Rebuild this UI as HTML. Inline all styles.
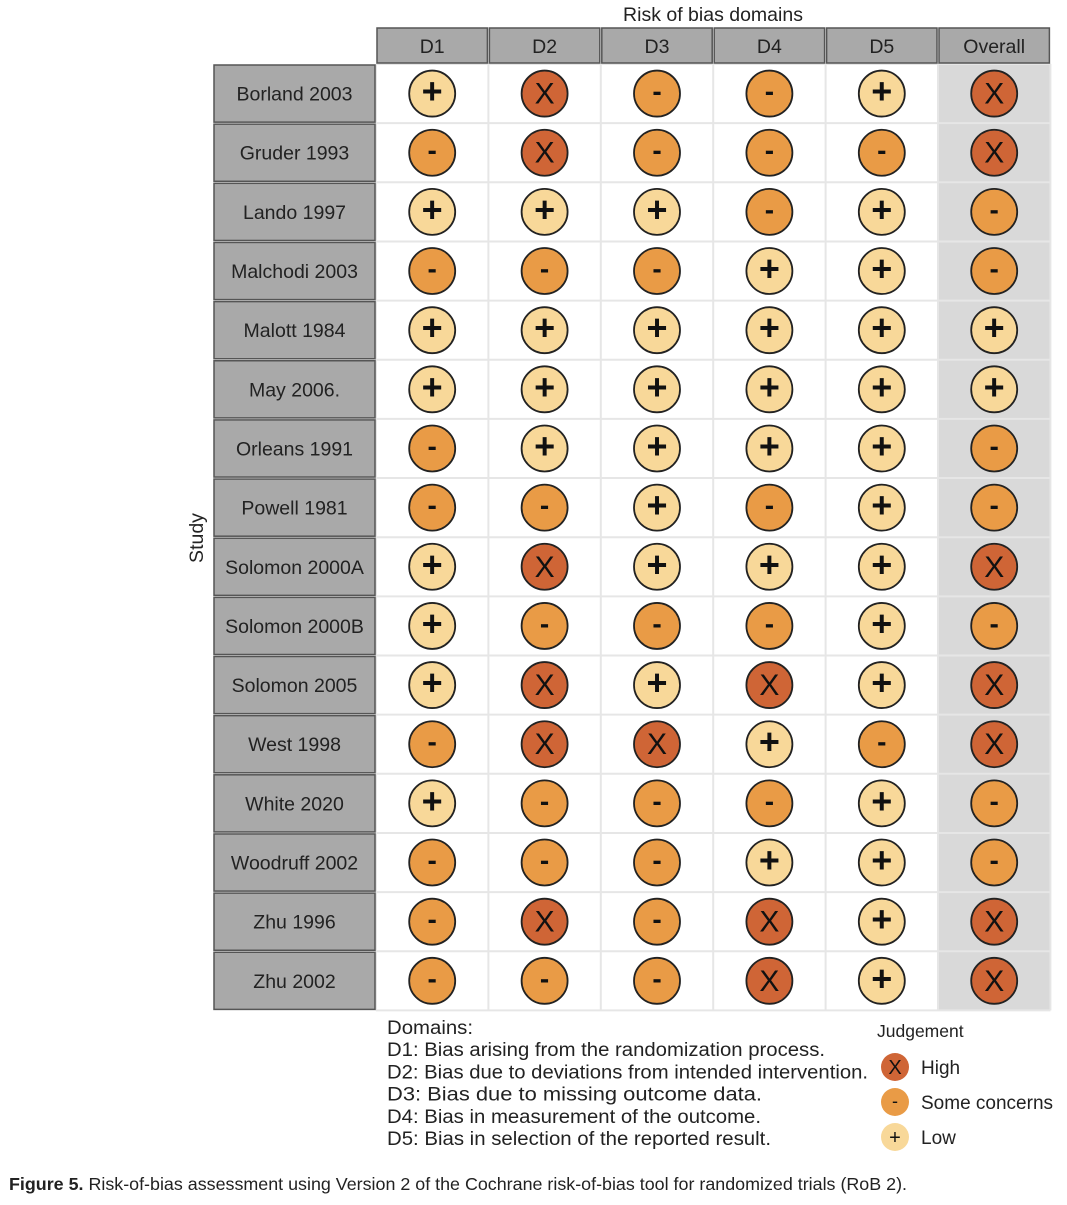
<!DOCTYPE html>
<html><head><meta charset="utf-8"><style>
body{margin:0;background:#fff;width:1067px;height:1200px;overflow:hidden;font-family:"Liberation Sans",sans-serif}
</style></head><body>
<svg id="chart" width="1067" height="1200" xmlns="http://www.w3.org/2000/svg" font-family="Liberation Sans, sans-serif"></svg>
<script>
const studies=["Borland 2003","Gruder 1993","Lando 1997","Malchodi 2003","Malott 1984","May 2006.","Orleans 1991","Powell 1981","Solomon 2000A","Solomon 2000B","Solomon 2005","West 1998","White 2020","Woodruff 2002","Zhu 1996","Zhu 2002"];
const domains=["D1","D2","D3","D4","D5","Overall"];
const d1=["+","-","+","-","+","+","-","-","+","+","+","-","+","-","-","-"];
const d2=["X","X","+","-","+","+","+","-","X","-","X","X","-","-","X","-"];
const d3=["-","-","+","-","+","+","+","+","+","-","+","X","-","-","-","-"];
const d4=["-","-","-","+","+","+","+","-","+","-","X","+","-","+","X","X"];
const d5=["+","-","+","+","+","+","+","+","+","+","+","-","+","+","+","+"];
const overall=["X","X","-","-","+","+","-","-","X","-","X","X","-","-","X","X"];
const cols=[d1,d2,d3,d4,d5,overall];
const svg=document.getElementById('chart');
const NS="http://www.w3.org/2000/svg";
const colors={"X":"#cf6536","-":"#e99b46","+":"#f8d899"};
function mk(tag,attrs,parent){const e=document.createElementNS(NS,tag);for(const k in attrs)e.setAttribute(k,attrs[k]);(parent||svg).appendChild(e);return e;}
const x0=376,colW=112.4,y0=64,rowH=59.15,labX=213;
function cx(j){return x0+colW*(j+0.5);}
function cy(i){return y0+rowH*(i+0.5);}
let bg=mk('rect',{x:x0+colW*5,y:y0,width:colW,height:rowH*studies.length,fill:'#d9d9d9'});


for(let i=0;i<=studies.length;i++){mk('line',{x1:x0,x2:x0+colW*6,y1:y0+rowH*i,y2:y0+rowH*i,stroke:'#e6e6e6','stroke-width':2});}
for(let j=0;j<=6;j++){mk('line',{x1:x0+colW*j,x2:x0+colW*j,y1:y0,y2:y0+rowH*studies.length,stroke:'#e6e6e6','stroke-width':2});}
let t=mk('text',{x:713,y:21,'font-size':19.5,'text-anchor':'middle',fill:'#222'});t.textContent='Risk of bias domains';


domains.forEach((d,j)=>{
 let r=mk('rect',{x:x0+colW*j+1,y:28,width:colW-2,height:35,fill:'#a9a9a9',stroke:'#555','stroke-width':1.5});
 
 
 let tx=mk('text',{x:cx(j),y:53,'font-size':19.5,'text-anchor':'middle',fill:'#222'});tx.textContent=d;
});
studies.forEach((s,i)=>{
 let r=mk('rect',{x:labX+1,y:y0+rowH*i+1,width:x0-labX-2,height:rowH-2,fill:'#a9a9a9',stroke:'#555','stroke-width':1.5});
 
 
 let tx=mk('text',{x:(labX+x0)/2,y:cy(i)+7,'font-size':19.5,'text-anchor':'middle',fill:'#222'});tx.textContent=s;
});
let st=mk('text',{x:0,y:0,'font-size':19.5,'text-anchor':'middle',fill:'#222',transform:'translate(203,538) rotate(-90)'});st.textContent='Study';


cols.forEach((col,j)=>{col.forEach((v,i)=>{
 let c=mk('circle',{cx:cx(j),cy:cy(i),r:23,fill:colors[v],stroke:'#222','stroke-width':1.8});
 
 
 let tx=mk('text',{x:cx(j),y:cy(i)+(v==='-'?7:10),'font-size':v==='X'?30:(v==='+'?36:28),'font-weight':v==='X'?'normal':'bold','text-anchor':'middle',fill:'#111'});tx.textContent=v;
});});
const dl=["Domains:","D1: Bias arising from the randomization process.","D2: Bias due to deviations from intended intervention.","D3: Bias due to missing outcome data.","D4: Bias in measurement of the outcome.","D5: Bias in selection of the reported result."];
const dlw=[86,438,481,375,374,384];
dl.forEach((s,i)=>{let tx=mk('text',{x:387,y:1034+i*22.2,'font-size':19,fill:'#222',textLength:dlw[i],lengthAdjust:'spacingAndGlyphs'});tx.textContent=s;
 
 });
let jt=mk('text',{x:877,y:1037,'font-size':17.5,fill:'#222'});jt.textContent='Judgement';
const lg=[["X","High"],["-","Some concerns"],["+","Low"]];
lg.forEach((l,i)=>{const y=1067+i*35;
 let c=mk('circle',{cx:895,cy:y,r:14,fill:colors[l[0]]});
 
 
 let a=mk('text',{x:895,y:y+(l[0]==='-'?5:7),'font-size':l[0]==='-'?18:20,'text-anchor':'middle',fill:'#111'});a.textContent=l[0];
 let b=mk('text',{x:921,y:y+7,'font-size':19,fill:'#222'});b.textContent=l[1];
});
let cap=mk('text',{x:9,y:1190,'font-size':17.5,fill:'#222',textLength:898,lengthAdjust:'spacingAndGlyphs'});


let b1=mk('tspan',{'font-weight':'bold'},cap);b1.textContent='Figure 5.';
let b2=mk('tspan',{},cap);b2.textContent=' Risk-of-bias assessment using Version 2 of the Cochrane risk-of-bias tool for randomized trials (RoB 2).';
</script>
</body></html>
